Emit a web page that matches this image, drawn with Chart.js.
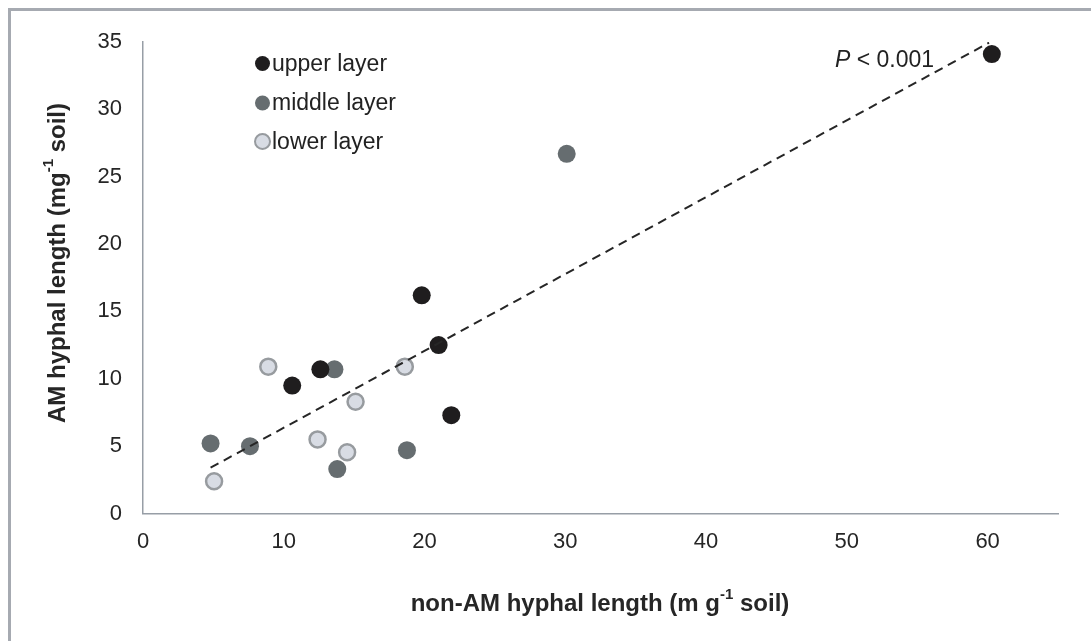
<!DOCTYPE html>
<html>
<head>
<meta charset="utf-8">
<script src="https://cdn.jsdelivr.net/npm/chart.js@4.4.1/dist/chart.umd.min.js"></script>
<style>
  html, body { margin: 0; padding: 0; background: #fff; }
  #wrap { width: 1091px; height: 641px; position: relative; }
</style>
</head>
<body>
<div id="wrap"><canvas id="myChart"></canvas></div>
<script>
// values
const upperX = [60.3, 19.8, 21.0, 12.6, 10.6, 21.9];
const upperY = [34.1, 16.2, 12.5, 10.7, 9.5, 7.3];
const middleX = [30.1, 13.6, 4.8, 7.6, 18.75, 13.8];
const middleY = [26.7, 10.7, 5.2, 5.0, 4.7, 3.3];
const lowerX = [8.9, 18.6, 15.1, 12.4, 14.5, 5.05];
const lowerY = [10.9, 10.9, 8.3, 5.5, 4.55, 2.4];
const trendX = [4.8, 60.1];
const trendY = [3.4, 34.95];
const xTicks = [0, 10, 20, 30, 40, 50, 60];
const yTicks = [0, 5, 10, 15, 20, 25, 30, 35];
const seriesNames = ['upper layer', 'middle layer', 'lower layer'];

const FONT = '"Liberation Sans", Arial, sans-serif';

function toPoints(xs, ys) {
    return xs.map((x, i) => ({ x: x, y: ys[i] }));
}

// draw "text" parts with superscripts, centred on (0,0)
function drawParts(ctx, parts, size) {
    const supSize = Math.round(size * 0.62);
    let total = 0;
    parts.forEach(p => {
        ctx.font = 'bold ' + (p.sup ? supSize : size) + 'px ' + FONT;
        p.w = ctx.measureText(p.t).width;
        total += p.w;
    });
    let x = -total / 2;
    parts.forEach(p => {
        ctx.font = 'bold ' + (p.sup ? supSize : size) + 'px ' + FONT;
        ctx.fillText(p.t, x, p.sup ? -size * 0.38 : 0);
        x += p.w;
    });
}

const extras = {
    id: 'extras',
    afterDraw(chart) {
        const ctx = chart.ctx;
        ctx.save();

        // outer frame (only left and top edges are in view)
        ctx.strokeStyle = '#a6aab1';
        ctx.lineWidth = 3;
        ctx.strokeRect(9.5, 9.5, 1300, 1000);

        // legend
        const ys = [63.5, 103, 141.5];
        chart.data.datasets.slice(1).forEach((ds, i) => {
            ctx.beginPath();
            ctx.arc(262.5, ys[i], 7.5, 0, Math.PI * 2);
            ctx.fillStyle = ds.backgroundColor;
            ctx.fill();
            if (ds.borderWidth) {
                ctx.lineWidth = 2;
                ctx.strokeStyle = ds.borderColor;
                ctx.stroke();
            }
            ctx.fillStyle = '#222';
            ctx.font = '23px ' + FONT;
            ctx.textAlign = 'left';
            ctx.textBaseline = 'middle';
            ctx.fillText(ds.label, 272, ys[i] + 1);
        });

        // P value
        ctx.fillStyle = '#222';
        ctx.textBaseline = 'middle';
        ctx.textAlign = 'left';
        ctx.font = 'italic 23px ' + FONT;
        ctx.fillText('P', 835, 61);
        const pw = ctx.measureText('P').width;
        ctx.font = '23px ' + FONT;
        ctx.fillText(' < 0.001', 835 + pw, 61);

        // axis titles
        ctx.fillStyle = '#262626';
        ctx.textAlign = 'left';
        ctx.textBaseline = 'middle';
        ctx.save();
        ctx.translate(600, 604);
        drawParts(ctx, [{ t: 'non-AM hyphal length (m g' }, { t: '-1', sup: true }, { t: ' soil)' }], 24);
        ctx.restore();

        ctx.save();
        ctx.translate(58, 263);
        ctx.rotate(-Math.PI / 2);
        drawParts(ctx, [{ t: 'AM hyphal length (mg' }, { t: '-1', sup: true }, { t: ' soil)' }], 24);
        ctx.restore();

        ctx.restore();
    }
};

const ctx = document.getElementById('myChart').getContext('2d');

new Chart(ctx, {
    type: 'scatter',
    data: {
        datasets: [
            {
                label: 'trend',
                type: 'line',
                data: toPoints(trendX, trendY),
                borderColor: '#262626',
                borderWidth: 2,
                borderDash: [9, 6],
                pointRadius: 0,
                fill: false
            },
            {
                label: seriesNames[0],
                data: toPoints(upperX, upperY),
                backgroundColor: '#1f1d1e',
                borderColor: '#1f1d1e',
                borderWidth: 0,
                pointRadius: 9
            },
            {
                label: seriesNames[1],
                data: toPoints(middleX, middleY),
                backgroundColor: '#666d70',
                borderColor: '#666d70',
                borderWidth: 0,
                pointRadius: 9
            },
            {
                label: seriesNames[2],
                data: toPoints(lowerX, lowerY),
                backgroundColor: '#d8dce4',
                borderColor: '#979b9f',
                borderWidth: 2.5,
                pointRadius: 8
            }
        ]
    },
    options: {
        responsive: true,
        maintainAspectRatio: false,
        animation: false,
        layout: { padding: { left: 0, right: 33, top: 42, bottom: 0 } },
        plugins: {
            legend: { display: false },
            tooltip: { enabled: false }
        },
        scales: {
            x: {
                type: 'linear',
                min: 0,
                max: 65,
                grid: { display: false, drawTicks: false },
                border: { display: true, color: '#979ea6', width: 1.5 },
                afterBuildTicks: s => { s.ticks = xTicks.map(v => ({ value: v })); },
                afterFit: s => { s.height = 127.5; },
                ticks: {
                    padding: 15,
                    maxRotation: 0,
                    color: '#262626',
                    font: { family: FONT, size: 22 }
                }
            },
            y: {
                type: 'linear',
                min: 0,
                max: 35,
                grid: { display: false, drawTicks: false },
                border: { display: true, color: '#979ea6', width: 1.5 },
                afterBuildTicks: s => { s.ticks = yTicks.map(v => ({ value: v })); },
                afterFit: s => { s.width = 143; },
                ticks: {
                    padding: 21,
                    color: '#262626',
                    font: { family: FONT, size: 22 }
                }
            }
        }
    },
    plugins: [extras]
});
</script>
</body>
</html>
